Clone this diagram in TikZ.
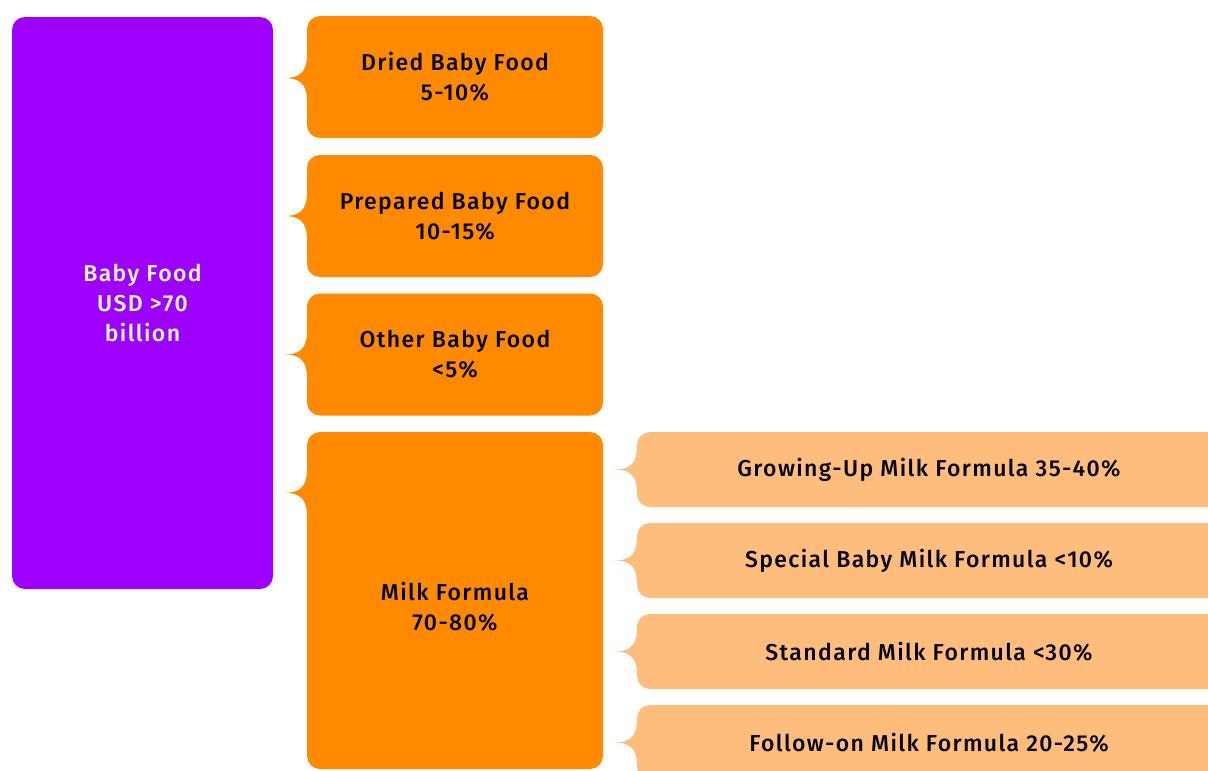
\documentclass[tikz,border=0pt]{standalone}
\usepackage{fontspec}
\setmainfont{Fira Sans Medium}[LetterSpace=6]
\usetikzlibrary{calc}
\definecolor{cpurple}{HTML}{9D00FF}
\definecolor{corange}{HTML}{FF8A00}
\definecolor{clight}{HTML}{FFBD7D}
\tikzset{
  box/.style={rounded corners=13pt, inner sep=0pt, align=center, font=\fontsize{23}{30}\selectfont},
  rootbox/.style={box, fill=cpurple, text=white, minimum width=261pt, minimum height=572pt},
  midbox/.style={box, fill=corange, text=black, minimum width=296pt},
  leafbox/.style={box, fill=clight, text=black, minimum width=584pt, minimum height=75pt},
  label text/.style={inner sep=0pt, align=center, font=\fontsize{23}{30}\selectfont},
}
\newcommand{\notch}[2]{% #1 point on left edge, #2 colour
  \fill[#2] ($#1+(0,-21)$) .. controls ($#1+(0,-4)$) and ($#1+(-10,0)$) .. ($#1+(-22,0)$)
    .. controls ($#1+(-10,0)$) and ($#1+(0,4)$) .. ($#1+(0,21)$) -- ($#1+(2,21)$) -- ($#1+(2,-21)$) -- cycle;}
\begin{document}
\begin{tikzpicture}[x=1pt,y=-1pt]
\useasboundingbox (0,0) rectangle (1208,771);
\clip (0,0) rectangle (1208,771);
\node[rootbox] (root) at (142.5,303) {Baby Food\\USD >70\\billion};
\node[midbox, minimum height=122pt] (dried) at (455,77) {Dried Baby Food\\5-10\%};
\node[midbox, minimum height=122pt] (prep) at (455,216) {Prepared Baby Food\\10-15\%};
\node[midbox, minimum height=122pt] (other) at (455,354.5) {Other Baby Food\\<5\%};
\node[midbox, minimum height=337pt] (milk) at (455,600.5) {};
\node[label text] (milktext) at ($(milk.center)+(0,6)$) {Milk Formula\\70-80\%};
\node[leafbox] (grow) at (929,469.5) {Growing-Up Milk Formula 35-40\%};
\node[leafbox] (special) at (929,560.5) {Special Baby Milk Formula <10\%};
\node[leafbox] (standard) at (929,651.5) {Standard Milk Formula <30\%};
\node[leafbox] (follow) at (929,742.5) {Follow-on Milk Formula 20-25\%};
\notch{($(dried.west)+(0,1)$)}{corange}
\notch{(prep.west)}{corange}
\notch{(other.west)}{corange}
\notch{($(milk.north west)+(0,61)$)}{corange}
\notch{(grow.west)}{clight}
\notch{(special.west)}{clight}
\notch{(standard.west)}{clight}
\notch{(follow.west)}{clight}
\end{tikzpicture}
\end{document}
